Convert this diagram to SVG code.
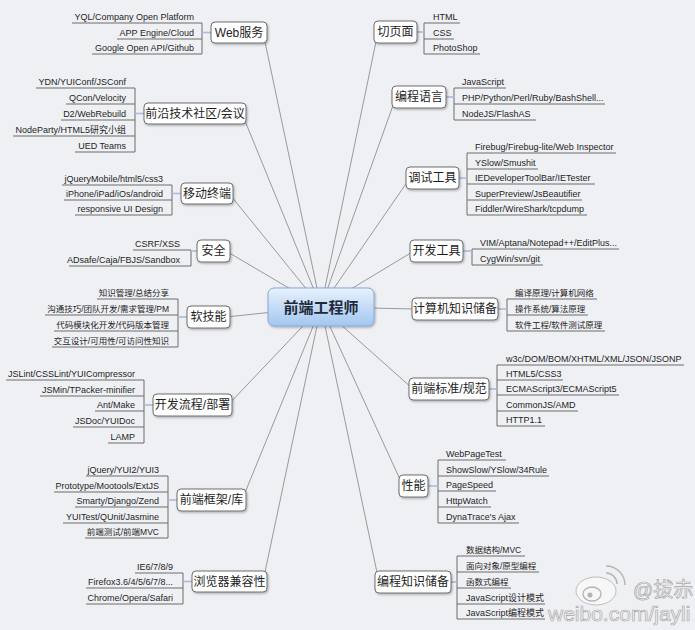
<svg xmlns="http://www.w3.org/2000/svg" width="695" height="630" viewBox="0 0 695 630">
<defs>
<linearGradient id="hubg" x1="0" y1="0" x2="0" y2="1"><stop offset="0" stop-color="#e8f1fc"/><stop offset="1" stop-color="#a2c7f0"/></linearGradient>
<filter id="sh" x="-20%" y="-30%" width="140%" height="160%"><feDropShadow dx="1" dy="1.2" stdDeviation="0.8" flood-color="#000" flood-opacity="0.3"/></filter>
</defs>
<style>
text{font-family:'Liberation Sans','Noto Sans CJK SC',sans-serif;fill:#1e1e1e}
.c{font-size:9px}
.cj{font-size:8.5px}
.e{text-anchor:end}
.n{font-size:12px;text-anchor:middle}
.hub{font-size:15px;font-weight:bold;text-anchor:middle;fill:#1d2a3b}
.box{fill:#fff;stroke:#6f6f6f;stroke-width:1;filter:url(#sh)}
.hubbox{fill:url(#hubg);stroke:#86a9d4;stroke-width:1;filter:url(#sh)}
.br{fill:none;stroke:#6d6d6d;stroke-width:1}
.tk{stroke:#a9bcd9;stroke-width:1.6}
.ln{stroke:#8f8f8f;stroke-width:0.9}
.wm{fill:#f7f7f7;stroke:#a8a8a8;stroke-width:0.7}
.wml{fill:none;stroke:#b4b4b4;stroke-width:1.4}
</style>
<rect width="695" height="630" fill="#eff0f4"/>

<g id="connectors" class="ln">
<line x1="321" y1="307" x2="263" y2="32.5"/>
<line x1="321" y1="307" x2="242" y2="113.5"/>
<line x1="321" y1="307" x2="229" y2="193.5"/>
<line x1="321" y1="307" x2="226" y2="251"/>
<line x1="321" y1="307" x2="226" y2="317"/>
<line x1="321" y1="307" x2="228" y2="405"/>
<line x1="321" y1="307" x2="242" y2="500"/>
<line x1="321" y1="307" x2="263" y2="581.5"/>
<line x1="321" y1="307" x2="378" y2="32"/>
<line x1="321" y1="307" x2="396" y2="97"/>
<line x1="321" y1="307" x2="410" y2="178"/>
<line x1="321" y1="307" x2="414" y2="251"/>
<line x1="321" y1="307" x2="416" y2="309"/>
<line x1="321" y1="307" x2="413" y2="389"/>
<line x1="321" y1="307" x2="403" y2="486"/>
<line x1="321" y1="307" x2="379" y2="582"/>
</g>

<g id="hub">
<rect class="hubbox" x="268" y="288" width="106" height="38" rx="6"/>
<text class="hub" x="321" y="312.5">前端工程师</text>
</g>

<g id="n-web">
<path class="br" d="M202 23V54M72 23H202M117 39H202M92 54H202"/>
<line class="tk" x1="202" y1="32.5" x2="211" y2="32.5"/>
<rect class="box" x="211" y="22" width="56" height="21" rx="4"/>
<text class="n" x="239" y="36.5">Web服务</text>
<text class="c e" x="194" y="19.5">YQL/Company Open Platform</text>
<text class="c e" x="194" y="35.5">APP Engine/Cloud</text>
<text class="c e" x="194" y="50.5">Google Open API/Github</text>
</g>

<g id="n-community">
<path class="br" d="M135 88V152M36 88H135M66 104H135M61 120H135M13 136H135M75 152H135"/>
<line class="tk" x1="135" y1="113.5" x2="144" y2="113.5"/>
<rect class="box" x="144" y="103" width="102" height="21" rx="4"/>
<text class="n" x="195" y="117.5">前沿技术社区/会议</text>
<text class="c e" x="126" y="84.5">YDN/YUIConf/JSConf</text>
<text class="c e" x="126" y="100.5">QCon/Velocity</text>
<text class="c e" x="126" y="116.5">D2/WebRebuild</text>
<text class="c e" x="126" y="132.5">NodeParty/HTML5研究小组</text>
<text class="c e" x="126" y="148.5">UED Teams</text>
</g>

<g id="n-mobile">
<path class="br" d="M172 185V215M62 185H172M64 200H172M75 215H172"/>
<line class="tk" x1="172" y1="193.5" x2="181" y2="193.5"/>
<rect class="box" x="181" y="183" width="52" height="21" rx="4"/>
<text class="n" x="207" y="197.5">移动终端</text>
<text class="c e" x="163" y="181.5">jQueryMobile/html5/css3</text>
<text class="c e" x="163" y="196.5">iPhone/iPad/iOs/android</text>
<text class="c e" x="163" y="211.5">responsive UI Design</text>
</g>

<g id="n-security">
<path class="br" d="M191 250V266M133 250H191M69 266H191"/>
<line class="tk" x1="191" y1="251" x2="197" y2="251"/>
<rect class="box" x="197" y="240" width="33" height="22" rx="4"/>
<text class="n" x="213.5" y="255">安全</text>
<text class="c e" x="180" y="246.5">CSRF/XSS</text>
<text class="c e" x="180" y="262.5">ADsafe/Caja/FBJS/Sandbox</text>
</g>

<g id="n-soft">
<path class="br" d="M178 299V347M97 299H178M45 315H178M54 331H178M52 347H178"/>
<line class="tk" x1="178" y1="317" x2="187" y2="317"/>
<rect class="box" x="187" y="306" width="43" height="22" rx="4"/>
<text class="n" x="208.5" y="321">软技能</text>
<text class="cj e" x="169" y="295.5">知识管理/总结分享</text>
<text class="cj e" x="169" y="311.5">沟通技巧/团队开发/需求管理/PM</text>
<text class="cj e" x="169" y="327.5">代码模块化开发/代码版本管理</text>
<text class="cj e" x="169" y="343.5">交互设计/可用性/可访问性知识</text>
</g>

<g id="n-process">
<path class="br" d="M144 380V443M6 380H144M40 396H144M95 411H144M73 427H144M108 443H144"/>
<line class="tk" x1="144" y1="405" x2="153" y2="405"/>
<rect class="box" x="153" y="394" width="79" height="22" rx="4"/>
<text class="n" x="192.5" y="409">开发流程/部署</text>
<text class="c e" x="135" y="376.5">JSLint/CSSLint/YUICompressor</text>
<text class="c e" x="135" y="392.5">JSMin/TPacker-minifier</text>
<text class="c e" x="135" y="407.5">Ant/Make</text>
<text class="c e" x="135" y="423.5">JSDoc/YUIDoc</text>
<text class="c e" x="135" y="439.5">LAMP</text>
</g>

<g id="n-framework">
<path class="br" d="M168 476V538M86 476H168M54 492H168M75 507H168M63 523H168M85 538H168"/>
<line class="tk" x1="168" y1="500" x2="177" y2="500"/>
<rect class="box" x="177" y="489" width="69" height="22" rx="4"/>
<text class="n" x="211.5" y="504">前端框架/库</text>
<text class="c e" x="159" y="472.5">jQuery/YUI2/YUI3</text>
<text class="c e" x="159" y="488.5">Prototype/Mootools/ExtJS</text>
<text class="c e" x="159" y="503.5">Smarty/Django/Zend</text>
<text class="c e" x="159" y="519.5">YUITest/QUnit/Jasmine</text>
<text class="cj e" x="159" y="534.5">前端测试/前端MVC</text>
</g>

<g id="n-browser">
<path class="br" d="M183 573V604M135 573H183M86 588H183M86 604H183"/>
<line class="tk" x1="183" y1="581.5" x2="192" y2="581.5"/>
<rect class="box" x="192" y="571" width="75" height="21" rx="4"/>
<text class="n" x="229.5" y="585.5">浏览器兼容性</text>
<text class="c e" x="173" y="569.5">IE6/7/8/9</text>
<text class="c e" x="173" y="584.5">Firefox3.6/4/5/6/7/8...</text>
<text class="c e" x="173" y="600.5">Chrome/Opera/Safari</text>
</g>

<g id="n-slice">
<path class="br" d="M424 23V54M424 23H460M424 39H454M424 54H480"/>
<line class="tk" x1="417" y1="32" x2="424" y2="32"/>
<rect class="box" x="374" y="21" width="43" height="22" rx="4"/>
<text class="n" x="395.5" y="36">切页面</text>
<text class="c" x="433" y="19.5">HTML</text>
<text class="c" x="433" y="35.5">CSS</text>
<text class="c" x="433" y="50.5">PhotoShop</text>
</g>

<g id="n-lang">
<path class="br" d="M454 88V120M454 88H506M454 104H605M454 120H536"/>
<line class="tk" x1="446" y1="97" x2="454" y2="97"/>
<rect class="box" x="392" y="86" width="54" height="22" rx="4"/>
<text class="n" x="419" y="101">编程语言</text>
<text class="c" x="462" y="84.5">JavaScript</text>
<text class="c" x="462" y="100.5">PHP/Python/Perl/Ruby/BashShell...</text>
<text class="c" x="462" y="116.5">NodeJS/FlashAS</text>
</g>

<g id="n-debug">
<path class="br" d="M467 153V215M467 153H616M467 169H538M467 184H595M467 200H582M467 215H587"/>
<line class="tk" x1="459" y1="178" x2="467" y2="178"/>
<rect class="box" x="406" y="167" width="53" height="22" rx="4"/>
<text class="n" x="432.5" y="182">调试工具</text>
<text class="c" x="475" y="149.5">Firebug/Firebug-lite/Web Inspector</text>
<text class="c" x="475" y="165.5">YSlow/Smushit</text>
<text class="c" x="475" y="180.5">IEDeveloperToolBar/IETester</text>
<text class="c" x="475" y="196.5">SuperPreview/JsBeautifier</text>
<text class="c" x="475" y="211.5">Fiddler/WireShark/tcpdump</text>
</g>

<g id="n-devtools">
<path class="br" d="M472 249V265M472 249H619M472 265H543"/>
<line class="tk" x1="463" y1="251" x2="472" y2="251"/>
<rect class="box" x="410" y="240" width="53" height="22" rx="4"/>
<text class="n" x="436.5" y="255">开发工具</text>
<text class="c" x="480" y="245.5">VIM/Aptana/Notepad++/EditPlus...</text>
<text class="c" x="480" y="261.5">CygWin/svn/git</text>
</g>

<g id="n-cs">
<path class="br" d="M507 299V331M507 299H597M507 315H588M507 331H605"/>
<line class="tk" x1="498" y1="309" x2="507" y2="309"/>
<rect class="box" x="412" y="298" width="86" height="22" rx="4"/>
<text class="n" x="455" y="313">计算机知识储备</text>
<text class="cj" x="515" y="295.5">编译原理/计算机网络</text>
<text class="cj" x="515" y="311.5">操作系统/算法原理</text>
<text class="cj" x="515" y="327.5">软件工程/软件测试原理</text>
</g>

<g id="n-standards">
<path class="br" d="M497 365V426M497 365H684M497 380H563M497 395H619M497 411H578M497 426H545"/>
<line class="tk" x1="489" y1="389" x2="497" y2="389"/>
<rect class="box" x="409" y="378" width="80" height="22" rx="4"/>
<text class="n" x="449" y="393">前端标准/规范</text>
<text class="c" x="506" y="361.5">w3c/DOM/BOM/XHTML/XML/JSON/JSONP</text>
<text class="c" x="506" y="376.5">HTML5/CSS3</text>
<text class="c" x="506" y="391.5">ECMAScript3/ECMAScript5</text>
<text class="c" x="506" y="407.5">CommonJS/AMD</text>
<text class="c" x="506" y="422.5">HTTP1.1</text>
</g>

<g id="n-perf">
<path class="br" d="M438 460V523M438 460H506M438 476H549M438 491H496M438 507H491M438 523H519"/>
<line class="tk" x1="428" y1="486" x2="438" y2="486"/>
<rect class="box" x="399" y="475" width="29" height="22" rx="4"/>
<text class="n" x="413.5" y="490">性能</text>
<text class="c" x="446" y="456.5">WebPageTest</text>
<text class="c" x="446" y="472.5">ShowSlow/YSlow/34Rule</text>
<text class="c" x="446" y="487.5">PageSpeed</text>
<text class="c" x="446" y="503.5">HttpWatch</text>
<text class="c" x="446" y="519.5">DynaTrace's Ajax</text>
</g>

<g id="n-prog">
<path class="br" d="M457 556V619M457 556H525M457 572H539M457 588H511M457 604H545M457 619H545"/>
<line class="tk" x1="451" y1="582" x2="457" y2="582"/>
<rect class="box" x="375" y="571" width="76" height="22" rx="4"/>
<text class="n" x="413" y="586">编程知识储备</text>
<text class="cj" x="466" y="552.5">数据结构/MVC</text>
<text class="cj" x="466" y="568.5">面向对象/原型编程</text>
<text class="cj" x="466" y="584.5">函数式编程</text>
<text class="c" x="466" y="600.5">JavaScript设计模式</text>
<text class="c" x="466" y="615.5">JavaScript编程模式</text>
</g>

<g id="watermark">
<ellipse class="wm" cx="596" cy="591" rx="20" ry="14"/>
<ellipse class="wml" cx="592" cy="594" rx="9" ry="7"/>
<circle cx="590" cy="595" r="2.5" fill="#b4b4b4"/>
<path class="wml" d="M606 566A19 19 0 0 1 625 585M606 573A11 11 0 0 1 617 584"/>
<text x="633" y="597" style="font-size:20px;fill:#f7f7f7;stroke:#a8a8a8;stroke-width:0.7">@拔赤</text>
<text x="548" y="621" style="font-size:21px;fill:#f7f7f7;stroke:#a8a8a8;stroke-width:0.7">weibo.com/jayli</text>
</g>
</svg>
